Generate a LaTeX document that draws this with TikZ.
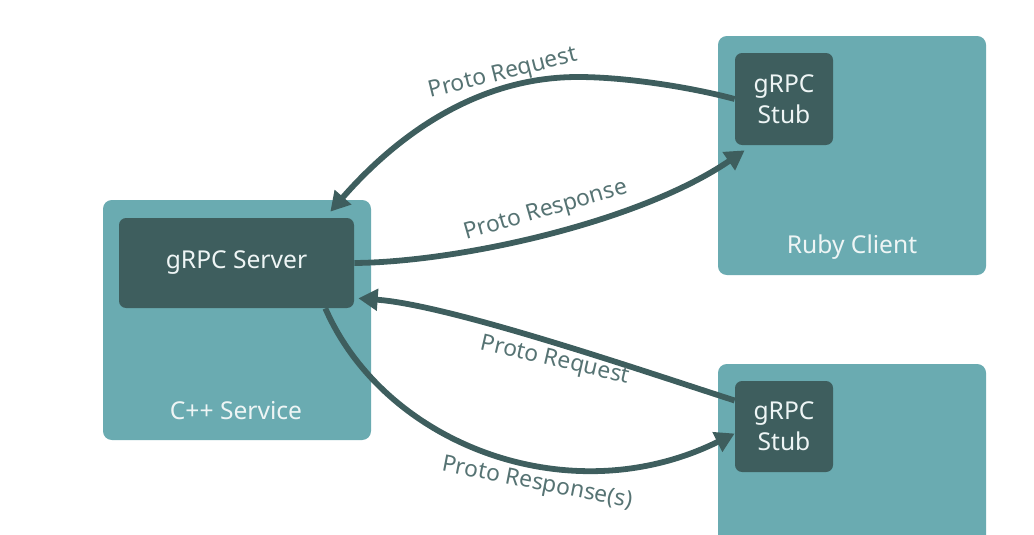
\documentclass[tikz,border=0pt]{standalone}
\usepackage{fontspec}
\setmainfont{Noto Sans}
\usetikzlibrary{arrows.meta, fit}

\definecolor{svcteal}{HTML}{6AABB1}
\definecolor{darkteal}{HTML}{3E5E5E}
\definecolor{labelgray}{HTML}{567373}
\definecolor{boxtext}{HTML}{EEF5F5}

\begin{document}
\begin{tikzpicture}[x = 0.02cm, y = -0.02cm, > = {Triangle[length = 11pt, width = 12pt]},
	service/.style = {fill = svcteal, rounded corners = 5pt, inner sep = 0pt},
	grpc/.style = {fill = darkteal, rounded corners = 4pt, inner sep = 0pt},
	boxname/.style = {text = boxtext, font = \fontsize{14}{17.5}\selectfont, align = center},
	call/.style = {->, draw = darkteal, line width = 3.3pt},
	msg/.style = {text = labelgray, font = \fontsize{13}{16}\selectfont}]

	\useasboundingbox (0, 0) rectangle (1034, 534);

	% Services

	\node [service, fit = {(103, 200) (371, 440)}] (cpp) {};
	\node [service, fit = {(718, 36) (986, 275)}] (ruby) {};
	\begin{scope}
		\clip (0, 0) rectangle (1034, 534);
		\node [service, fit = {(718, 364) (986, 560)}] (other) {};
	\end{scope}

	\node [boxname] (cppname) at (236, 411) {C++ Service};
	\node [boxname] (rubyname) at (852, 247) {Ruby Client};

	% Server and stubs

	\node [grpc, fit = {(119, 218) (354, 308)}] (server) {};
	\node [grpc, fit = {(735, 53) (833, 145)}] (stubA) {};
	\node [grpc, fit = {(735, 381) (833, 472)}] (stubB) {};

	\node [boxname] (servername) at (server.center) {gRPC Server};
	\node [boxname] (stubAname) at (stubA.center) {gRPC\\Stub};
	\node [boxname] (stubBname) at (stubB.center) {gRPC\\Stub};

	% Calls, Ruby client

	\draw [call] (stubA.west) .. controls (690, 87) and (625, 77) .. (578, 77)
		.. controls (480, 77) and (400, 132) .. ([shift = {(-24, -6)}] server.north east);
	\draw [call] (server.east) .. controls (460, 262) and (640, 222) .. ([shift = {(10, 5)}] stubA.south west);

	% Calls, other client

	\draw [call] ([shift = {(0, -26)}] stubB.west) .. controls (640, 370) and (450, 305) .. ([shift = {(4, -10)}] server.south east);
	\draw [call] ([shift = {(-29, 0)}] server.south east) .. controls (385, 445) and (570, 515) .. ([shift = {(0, 7)}] stubB.west);

	% Labels

	\node [msg, rotate = 14] (reqA) at (503, 74) {Proto Request};
	\node [msg, rotate = 16] (respA) at (546, 211) {Proto Response};
	\node [msg, rotate = -13] (reqB) at (555, 361) {Proto Request};
	\node [msg, rotate = -11] (respB) at (537, 484) {Proto Response(s)};

\end{tikzpicture}
\end{document}
